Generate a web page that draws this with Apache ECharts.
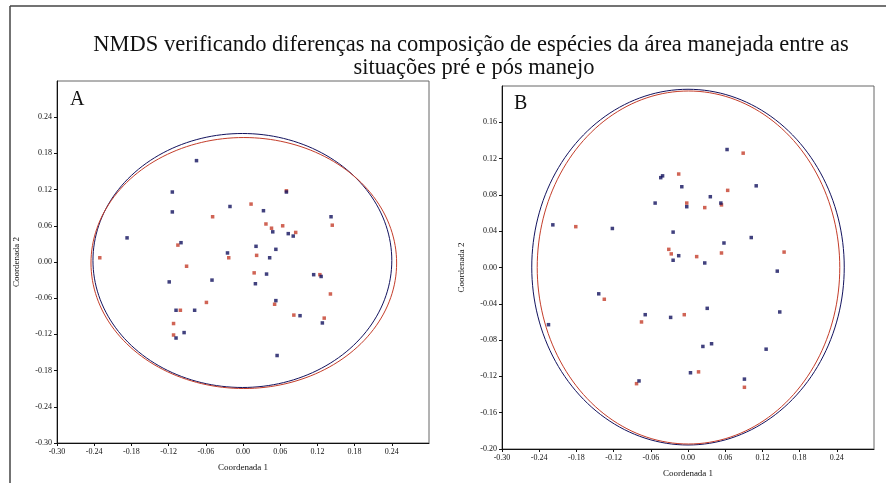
<!DOCTYPE html>
<html>
<head>
<meta charset="utf-8">
<script src="https://cdn.jsdelivr.net/npm/echarts@6/dist/echarts.min.js"></script>
<style>
  html, body { margin: 0; padding: 0; background: #fff; }
  #main { width: 886px; height: 483px; }
</style>
</head>
<body>
<div id="main"></div>
<script>
// eixos (valores dos ticks)
var axA = { min: -0.30, max: 0.30, interval: 0.06 };
var ayA = { min: -0.30, max: 0.30, interval: 0.06 };
var axB = { min: -0.30, max: 0.30, interval: 0.06 };
var ayB = { min: -0.20, max: 0.20, interval: 0.04 };

// painel A - pontos azuis (pré) e vermelhos (pós)
var aPre = [
  [-0.075, 0.168], [-0.114, 0.116], [-0.114, 0.083], [-0.021, 0.092], [0.033, 0.085],
  [-0.187, 0.040], [-0.100, 0.032], [-0.025, 0.015], [0.021, 0.026], [-0.119, -0.033],
  [-0.050, -0.030], [0.020, -0.036], [-0.108, -0.080], [-0.078, -0.080], [-0.095, -0.117],
  [-0.108, -0.126], [0.070, 0.116], [0.048, 0.050], [0.073, 0.047], [0.081, 0.043],
  [0.142, 0.075], [0.053, 0.021], [0.043, 0.007], [0.038, -0.020], [0.114, -0.021],
  [0.126, -0.024], [0.053, -0.064], [0.092, -0.089], [0.128, -0.101], [0.055, -0.155]
];
var aPos = [
  [0.013, 0.096], [-0.049, 0.075], [0.037, 0.063], [0.046, 0.056], [0.064, 0.060],
  [0.085, 0.049], [0.144, 0.061], [-0.105, 0.028], [-0.231, 0.007], [-0.023, 0.007],
  [0.022, 0.011], [-0.091, -0.007], [0.018, -0.018], [-0.059, -0.067], [-0.101, -0.080],
  [-0.112, -0.102], [-0.112, -0.121], [0.124, -0.021], [0.141, -0.053], [0.051, -0.070],
  [0.082, -0.088], [0.131, -0.093], [0.070, 0.118]
];

// painel B
var bPre = [
  [-0.041, 0.101], [-0.044, 0.099], [-0.053, 0.071], [-0.218, 0.047], [-0.122, 0.043],
  [-0.024, 0.039], [-0.015, 0.013], [-0.024, 0.008], [-0.144, -0.029], [-0.069, -0.052],
  [-0.028, -0.055], [-0.225, -0.063], [-0.079, -0.125], [0.063, 0.130], [-0.010, 0.089],
  [0.110, 0.090], [0.036, 0.078], [0.053, 0.071], [-0.002, 0.067], [0.102, 0.033],
  [0.058, 0.027], [0.027, 0.005], [0.144, -0.004], [0.031, -0.045], [0.148, -0.049],
  [0.024, -0.087], [0.038, -0.084], [0.126, -0.090], [0.004, -0.116], [0.091, -0.123]
];
var bPos = [
  [-0.015, 0.103], [-0.181, 0.045], [-0.031, 0.020], [-0.027, 0.015], [-0.135, -0.035],
  [-0.075, -0.060], [-0.083, -0.128], [0.089, 0.126], [0.064, 0.085], [-0.002, 0.071],
  [0.027, 0.066], [0.054, 0.069], [0.014, 0.012], [0.054, 0.016], [0.155, 0.017],
  [-0.006, -0.052], [0.017, -0.115], [0.091, -0.132]
];

// elipses: [centro x, centro y, largura total, altura total]
var aElipsePre = [[-0.001, 0.0025, 0.482, 0.421]];
var aElipsePos = [[0.0013, -0.0017, 0.493, 0.416]];
var bElipsePre = [[0.0, 0.0004, 0.504, 0.392]];
var bElipsePos = [[0.0008, 0.0, 0.488, 0.389]];

var azul = '#12125e';
var vermelho = '#c43d2a';
var serif = '"Liberation Serif", "Times New Roman", serif';

function fmt(v) {
  return (Math.round(v * 100) / 100).toFixed(2);
}

function eixoX(a, idx) {
  return {
    type: 'value', gridIndex: idx, min: a.min, max: a.max, interval: a.interval,
    name: 'Coordenada 1', nameLocation: 'middle', nameGap: 20,
    nameTextStyle: { fontFamily: serif, fontSize: 9, color: '#111' },
    axisLine: { show: true, onZero: false, lineStyle: { color: '#111', width: 1 } },
    axisTick: { show: true, length: 3, lineStyle: { color: '#111' } },
    axisLabel: { fontFamily: serif, fontSize: 8, color: '#111', margin: 5,
      showMaxLabel: false, formatter: fmt },
    splitLine: { show: false }
  };
}
function eixoY(a, idx) {
  return {
    type: 'value', gridIndex: idx, min: a.min, max: a.max, interval: a.interval,
    name: 'Coordenada 2', nameLocation: 'middle', nameGap: 36,
    nameTextStyle: { fontFamily: serif, fontSize: 9, color: '#111' },
    axisLine: { show: true, onZero: false, lineStyle: { color: '#111', width: 1 } },
    axisTick: { show: true, length: 3, lineStyle: { color: '#111' } },
    axisLabel: { fontFamily: serif, fontSize: 8, color: '#111', margin: 5,
      showMaxLabel: false, formatter: fmt },
    splitLine: { show: false }
  };
}

function elipse(dados, idx, cor) {
  return {
    type: 'custom', xAxisIndex: idx, yAxisIndex: idx, silent: true,
    data: dados, encode: { x: 0, y: 1 }, z: 2,
    renderItem: function (params, api) {
      var c = api.coord([api.value(0), api.value(1)]);
      var s = api.size([api.value(2), api.value(3)]);
      var pts = [];
      for (var i = 0; i <= 180; i++) {
        var t = i / 180 * Math.PI * 2;
        pts.push([c[0] + s[0] / 2 * Math.cos(t), c[1] + s[1] / 2 * Math.sin(t)]);
      }
      return { type: 'polyline', shape: { points: pts },
        style: { stroke: cor, fill: null, lineWidth: 1 } };
    }
  };
}
function pontos(dados, idx, cor) {
  return {
    type: 'scatter', xAxisIndex: idx, yAxisIndex: idx, data: dados,
    symbol: 'rect', symbolSize: 3.5, z: 3,
    itemStyle: { color: cor }
  };
}

var chart = echarts.init(document.getElementById('main'), null, { renderer: 'canvas' });
var option = {
  backgroundColor: '#fff',
  animation: false,
  grid: [
    { left: 57, top: 81, width: 372, height: 362, show: true, borderColor: '#666', borderWidth: 1 },
    { left: 502, top: 86, width: 372, height: 363, show: true, borderColor: '#666', borderWidth: 1 }
  ],
  xAxis: [eixoX(axA, 0), eixoX(axB, 1)],
  yAxis: [eixoY(ayA, 0), eixoY(ayB, 1)],
  graphic: [
    { type: 'line', shape: { x1: 10, y1: 6, x2: 886, y2: 6 }, style: { stroke: '#444', lineWidth: 1.5 } },
    { type: 'line', shape: { x1: 10, y1: 6, x2: 10, y2: 483 }, style: { stroke: '#444', lineWidth: 1.5 } },
    { type: 'text', x: 471, y: 45, style: { text: 'NMDS verificando diferenças na composição de espécies da área manejada entre as',
      font: '22.5px ' + serif, fill: '#111', textAlign: 'center', textVerticalAlign: 'middle' } },
    { type: 'text', x: 474, y: 68, style: { text: 'situações pré e pós manejo',
      font: '22.5px ' + serif, fill: '#111', textAlign: 'center', textVerticalAlign: 'middle' } },
    { type: 'text', x: 70, y: 100, style: { text: 'A', font: '20px ' + serif, fill: '#111',
      textVerticalAlign: 'middle' } },
    { type: 'text', x: 514, y: 104, style: { text: 'B', font: '20px ' + serif, fill: '#111',
      textVerticalAlign: 'middle' } }
  ],
  series: [
    elipse(aElipsePre, 0, azul),
    elipse(aElipsePos, 0, vermelho),
    elipse(bElipsePre, 1, azul),
    elipse(bElipsePos, 1, vermelho),
    pontos(aPos, 0, vermelho),
    pontos(aPre, 0, azul),
    pontos(bPos, 1, vermelho),
    pontos(bPre, 1, azul)
  ]
};
chart.setOption(option);
</script>
</body>
</html>
